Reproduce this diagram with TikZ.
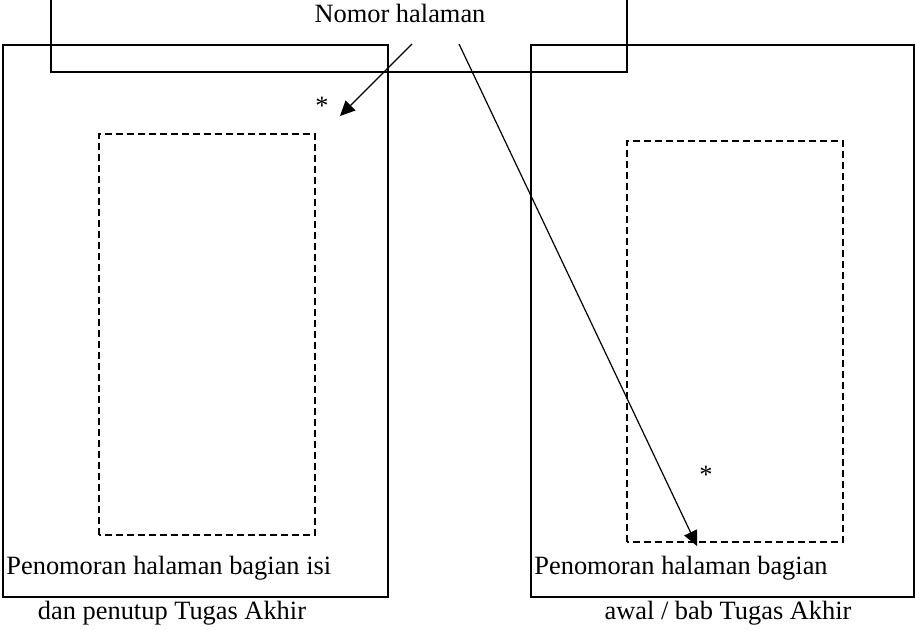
\documentclass[tikz,border=0pt]{standalone}
\usepackage{fontspec}
\setmainfont{Liberation Serif}
\usetikzlibrary{arrows.meta}

\tikzset{
  halaman/.style={draw,line width=0.6pt},
  isi/.style={draw,line width=0.6pt,dash pattern=on 3.5pt off 2pt},
  teks/.style={inner sep=0pt,font=\fontsize{13.2}{15}\selectfont},
  panah/.style={line width=0.6pt,-{Triangle[length=7.5pt,width=7pt]}}
}

\begin{document}
\begin{tikzpicture}[x=0.5pt,y=0.5pt]
\useasboundingbox (0,0) rectangle (915,630);
% kotak keterangan di atas
\draw[halaman] (51,558) rectangle (627,650);
\node[teks,anchor=base] (nomor) at (400,607) {Nomor halaman};
% dua halaman
\draw[halaman] (3,33) rectangle (388,585);
\draw[halaman] (531,33) rectangle (914,585);
\draw[isi] (99,95) rectangle (315,496);
\draw[isi] (627,88) rectangle (843,489);
% tanda nomor halaman
\node[teks,anchor=base] (bintangA) at (322,515) {*};
\node[teks,anchor=base] (bintangB) at (706,146) {*};
% panah
\coordinate (mulaiA) at (412,586);
\coordinate (mulaiB) at (459,586);
\coordinate (ujungA) at (340,514);
\coordinate (ujungB) at (697,84);
\draw[panah] (mulaiA) -- (ujungA);
\draw[panah] (mulaiB) -- (ujungB);
% keterangan
\node[teks,anchor=base west] (kiri1) at (6,55) {Penomoran halaman bagian isi};
\node[teks,anchor=base] (kiri2) at (172,10) {dan penutup Tugas Akhir};
\node[teks,anchor=base west] (kanan1) at (534,55) {Penomoran halaman bagian};
\node[teks,anchor=base] (kanan2) at (728,10) {awal / bab Tugas Akhir};
\end{tikzpicture}
\end{document}
